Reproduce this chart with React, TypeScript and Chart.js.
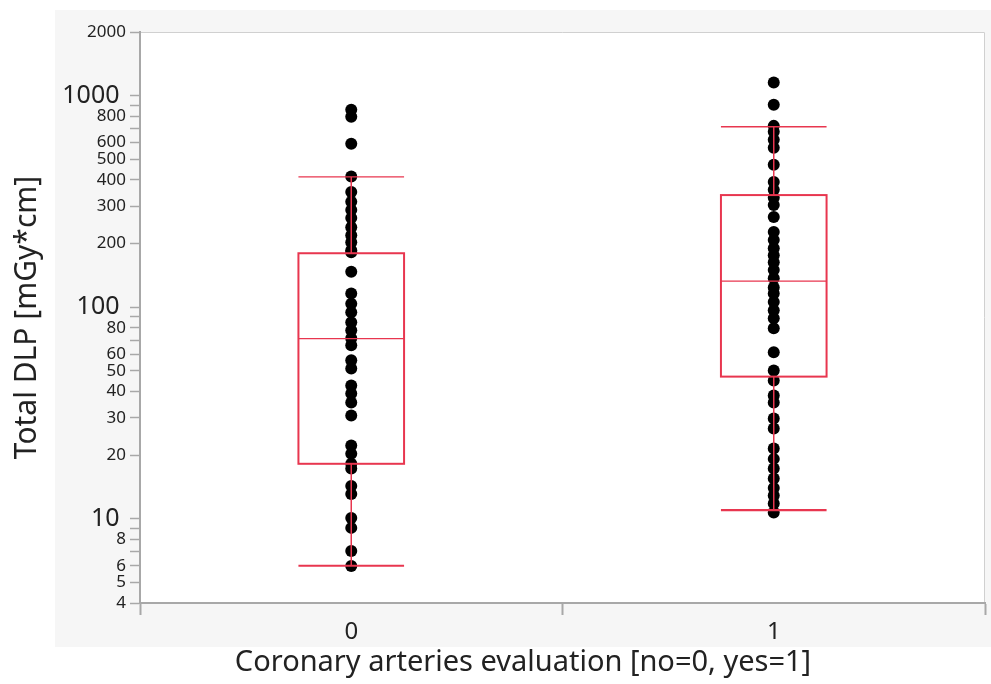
import React, { useEffect, useRef } from "react";
import { Chart, registerables } from "chart.js";

Chart.register(...registerables);

// ---- data ----
const groupLabels = ["0", "1"];
const groupPositions = [0, 1];

const dlpGroup0 = [
  859, 795, 592, 415, 351, 315, 288, 264, 239, 219, 203, 186, 182, 147, 116,
  104, 94.7, 84.9, 77.8, 71.3, 66.1, 56.1, 51.4, 42.7, 39.1, 35.5, 30.8, 22.2,
  20.3, 18.2, 17.3, 14.3, 13.1, 10.1, 9.06, 7.05, 5.98,
];
const dlpGroup1 = [
  1153, 906, 720, 675, 619, 567, 471, 391, 359, 329, 304, 267, 227, 208, 190,
  176, 163, 150, 137, 124, 116, 106, 96.8, 88.7, 79.5, 61.2, 50.3, 45.1, 38.3,
  35.5, 29.8, 26.7, 21.5, 19.2, 17.3, 15.5, 14.0, 12.9, 11.8, 10.7,
];

const boxQ1 = [18.2, 47];
const boxMedian = [71, 133];
const boxQ3 = [180, 339];
const whiskerLow = [6, 11];
const whiskerHigh = [413, 713];

const yTickValues = [
  4, 5, 6, 7, 8, 9, 10, 20, 30, 40, 50, 60, 70, 80, 90, 100, 200, 300, 400, 500,
  600, 700, 800, 900, 1000, 2000,
];
const yUnlabeled = [7, 9, 70, 90, 700, 900];
const yMajor = [10, 100, 1000];
const xTickValues = [-0.5, 0, 0.5, 1, 1.5];

const yTitle = "Total DLP [mGy*cm]";
const xTitle = "Coronary arteries evaluation [no=0, yes=1]";

const FONT = "'Noto Sans', 'Open Sans', sans-serif";
const BOX_COLOR = "#e8364f";
const BOX_HALF = 0.125;
const PANEL = { left: 55, top: 10, bottom: 647 };

const backgroundPlugin = {
  id: "bgPanels",
  beforeDraw(chart: any) {
    const { ctx, chartArea, width, height } = chart;
    ctx.save();
    ctx.fillStyle = "#ffffff";
    ctx.fillRect(0, 0, width, height);
    ctx.fillStyle = "#f6f6f6";
    ctx.fillRect(PANEL.left, PANEL.top, width - PANEL.left, PANEL.bottom - PANEL.top);
    ctx.fillStyle = "#ffffff";
    ctx.fillRect(chartArea.left, chartArea.top, chartArea.right - chartArea.left, chartArea.bottom - chartArea.top);
    ctx.strokeStyle = "#d0d0d0";
    ctx.lineWidth = 1;
    ctx.beginPath();
    ctx.moveTo(chartArea.left, chartArea.top + 0.5);
    ctx.lineTo(chartArea.right - 0.5, chartArea.top + 0.5);
    ctx.lineTo(chartArea.right - 0.5, chartArea.bottom);
    ctx.stroke();
    ctx.restore();
  },
  afterDraw(chart: any) {
    const { ctx, width } = chart;
    ctx.save();
    ctx.fillStyle = "#222";
    ctx.font = `29px ${FONT}`;
    ctx.textAlign = "center";
    ctx.textBaseline = "middle";
    ctx.fillText(xTitle, (PANEL.left + width) / 2, 663);
    ctx.restore();
  },
};

const boxPlugin = {
  id: "boxes",
  afterDatasetsDraw(chart: any) {
    const { ctx } = chart;
    const xs = chart.scales.x;
    const ys = chart.scales.y;
    ctx.save();
    ctx.strokeStyle = BOX_COLOR;
    groupPositions.forEach((g, i) => {
      const xc = xs.getPixelForValue(g);
      const xl = xs.getPixelForValue(g - BOX_HALF);
      const xr = xs.getPixelForValue(g + BOX_HALF);
      const yq1 = ys.getPixelForValue(boxQ1[i]);
      const yq3 = ys.getPixelForValue(boxQ3[i]);
      const ym = ys.getPixelForValue(boxMedian[i]);
      const ylo = ys.getPixelForValue(whiskerLow[i]);
      const yhi = ys.getPixelForValue(whiskerHigh[i]);
      ctx.lineWidth = 1.5;
      ctx.beginPath();
      ctx.moveTo(xc, yq3);
      ctx.lineTo(xc, yhi);
      ctx.moveTo(xc, yq1);
      ctx.lineTo(xc, ylo);
      ctx.stroke();
      ctx.lineWidth = 1.3;
      ctx.beginPath();
      ctx.moveTo(xl, yhi);
      ctx.lineTo(xr, yhi);
      ctx.stroke();
      ctx.lineWidth = 2.2;
      ctx.beginPath();
      ctx.moveTo(xl, ylo);
      ctx.lineTo(xr, ylo);
      ctx.stroke();
      ctx.lineWidth = 2;
      ctx.strokeRect(xl, yq3, xr - xl, yq1 - yq3);
      ctx.lineWidth = 1.2;
      ctx.beginPath();
      ctx.moveTo(xl, ym);
      ctx.lineTo(xr, ym);
      ctx.stroke();
    });
    ctx.restore();
  },
};

export default function App() {
  const canvasRef = useRef<HTMLCanvasElement | null>(null);

  useEffect(() => {
    if (!canvasRef.current) return;
    const chart = new Chart(canvasRef.current, {
      type: "scatter",
      data: {
        datasets: [
          {
            label: groupLabels[0],
            data: dlpGroup0.map((v) => ({ x: groupPositions[0], y: v })),
            backgroundColor: "#000000",
            borderWidth: 0,
            pointRadius: 6,
          },
          {
            label: groupLabels[1],
            data: dlpGroup1.map((v) => ({ x: groupPositions[1], y: v })),
            backgroundColor: "#000000",
            borderWidth: 0,
            pointRadius: 6,
          },
        ],
      },
      plugins: [backgroundPlugin, boxPlugin],
      options: {
        responsive: false,
        animation: false,
        events: [],
        layout: { padding: { top: 32, right: 3, left: 0, bottom: 0 } },
        plugins: {
          legend: { display: false },
          tooltip: { enabled: false },
        },
        scales: {
          x: {
            type: "linear",
            min: -0.5,
            max: 1.5,
            afterBuildTicks: (s: any) => {
              s.ticks = xTickValues.map((v) => ({ value: v }));
            },
            afterFit: (s: any) => {
              s.height = 81;
            },
            ticks: {
              autoSkip: false,
              maxRotation: 0,
              padding: 3,
              color: "#222",
              font: { family: FONT, size: 24 },
              callback: (v: any) => {
                const idx = groupPositions.indexOf(Number(v));
                return idx >= 0 ? groupLabels[idx] : "";
              },
            },
            grid: {
              drawOnChartArea: false,
              tickLength: 12,
              tickWidth: 2,
              tickColor: (c: any) =>
                c.tick && groupPositions.includes(c.tick.value) ? "rgba(0,0,0,0)" : "#a8a8a8",
            },
            border: { display: true, color: "#a8a8a8", width: 2 },
            title: { display: false },
          },
          y: {
            type: "logarithmic",
            min: 4,
            max: 2000,
            afterBuildTicks: (s: any) => {
              s.ticks = yTickValues.map((v) => ({ value: v }));
            },
            afterFit: (s: any) => {
              s.width = 140;
            },
            ticks: {
              autoSkip: false,
              padding: 4,
              color: "#222",
              font: (c: any) => ({
                family: FONT,
                size: c.tick && yMajor.includes(c.tick.value) ? 25 : 17,
              }),
              callback: (v: any) => {
                const n = Number(v);
                if (yUnlabeled.includes(n)) return "";
                return yMajor.includes(n) ? String(n) + " " : String(n);
              },
            },
            grid: {
              drawOnChartArea: false,
              tickLength: 10,
              tickWidth: 1.5,
              tickColor: "#a8a8a8",
            },
            border: { display: true, color: "#a8a8a8", width: 2 },
            title: {
              display: true,
              text: yTitle,
              color: "#222",
              font: { family: FONT, size: 30 },
              padding: { top: 9, bottom: 0 },
            },
          },
        },
      },
    });
    return () => chart.destroy();
  }, []);

  return (
    <div style={{ position: "absolute", left: 0, top: 0, width: 991, height: 684 }}>
      <canvas ref={canvasRef} width={991} height={684} style={{ display: "block" }} />
    </div>
  );
}
